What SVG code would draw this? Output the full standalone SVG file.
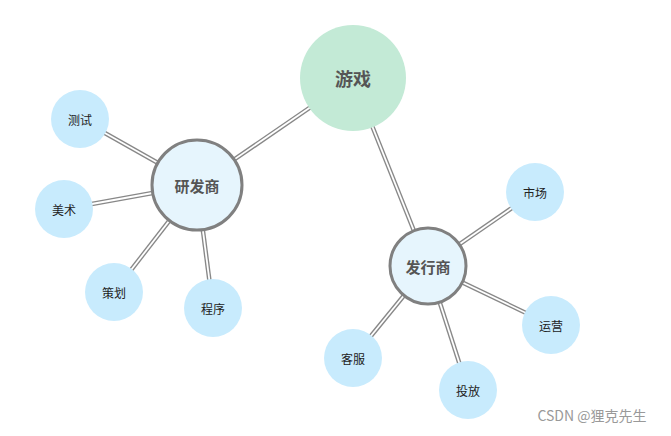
<svg xmlns="http://www.w3.org/2000/svg" width="671" height="436" viewBox="0 0 671 436">
<style>
.lo{stroke:#888;stroke-width:4.5;fill:none}
.li{stroke:#fff;stroke-width:1.8;fill:none}
.leaf{fill:#c8ebfd}
.hub{fill:#e6f5fd;stroke:#808080;stroke-width:3}
text{font-family:"Noto Sans CJK SC",sans-serif;text-anchor:middle;dominant-baseline:central}
.s{font-size:12px;fill:#222}
.m{font-size:15px;font-weight:bold;fill:#555}
</style>
<rect width="671" height="436" fill="#fff"/>
<g id="connectors">
<g class="lo"><line x1="353" y1="78" x2="197" y2="185"/><line x1="353" y1="78" x2="428" y2="266"/><line x1="197" y1="185" x2="80" y2="119"/><line x1="197" y1="185" x2="64" y2="209"/><line x1="197" y1="185" x2="114" y2="292"/><line x1="197" y1="185" x2="213" y2="308"/><line x1="428" y1="266" x2="535" y2="192"/><line x1="428" y1="266" x2="551" y2="325"/><line x1="428" y1="266" x2="468" y2="390"/><line x1="428" y1="266" x2="353" y2="358"/></g>
<g class="li"><line x1="353" y1="78" x2="197" y2="185"/><line x1="353" y1="78" x2="428" y2="266"/><line x1="197" y1="185" x2="80" y2="119"/><line x1="197" y1="185" x2="64" y2="209"/><line x1="197" y1="185" x2="114" y2="292"/><line x1="197" y1="185" x2="213" y2="308"/><line x1="428" y1="266" x2="535" y2="192"/><line x1="428" y1="266" x2="551" y2="325"/><line x1="428" y1="266" x2="468" y2="390"/><line x1="428" y1="266" x2="353" y2="358"/></g>
</g>
<g id="youxi"><circle cx="353" cy="78" r="53" fill="#c3ead6"/><text x="353" y="78" style="font-size:18px;font-weight:bold;fill:#555">游戏</text></g>
<g id="yanfa"><circle class="hub" cx="197" cy="185" r="45"/><text class="m" x="197" y="185">研发商</text></g>
<g id="faxing"><circle class="hub" cx="428" cy="266" r="38"/><text class="m" x="428" y="266">发行商</text></g>
<g id="ceshi"><circle class="leaf" cx="80" cy="119" r="29"/><text class="s" x="80" y="119">测试</text></g>
<g id="meishu"><circle class="leaf" cx="64" cy="209" r="29"/><text class="s" x="64" y="209">美术</text></g>
<g id="cehua"><circle class="leaf" cx="114" cy="292" r="29"/><text class="s" x="114" y="292">策划</text></g>
<g id="chengxu"><circle class="leaf" cx="213" cy="308" r="29"/><text class="s" x="213" y="308">程序</text></g>
<g id="shichang"><circle class="leaf" cx="535" cy="192" r="29"/><text class="s" x="535" y="192">市场</text></g>
<g id="yunying"><circle class="leaf" cx="551" cy="325" r="29"/><text class="s" x="551" y="325">运营</text></g>
<g id="toufang"><circle class="leaf" cx="468" cy="390" r="29"/><text class="s" x="468" y="390">投放</text></g>
<g id="kefu"><circle class="leaf" cx="353" cy="358" r="29"/><text class="s" x="353" y="358">客服</text></g>
<text x="592" y="415" style="font-size:14px;fill:#999">CSDN @狸克先生</text>
</svg>
